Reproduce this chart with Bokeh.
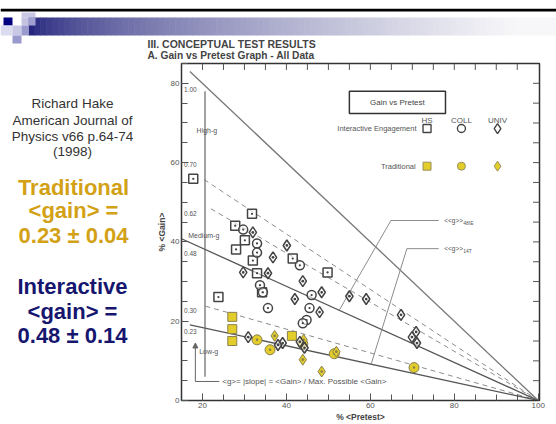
from bokeh.plotting import figure
from bokeh.layouts import column, row
from bokeh.models import (Range1d, LinearAxis, SingleIntervalTicker, Label,
                          Arrow, NormalHead)
from bokeh.embed import file_html
from bokeh.resources import INLINE

# ---------------- data ----------------
ie_hs_pre = [17.8, 31.8, 27.8, 30.1, 28.0, 32.0, 33.0, 23.8, 41.5, 49.8, 34.2]
ie_hs_gain = [55.9, 47.1, 44.1, 40.4, 38.1, 35.3, 32.1, 26.1, 35.8, 32.3, 27.3]
ie_coll_pre = [29.7, 33.0, 33.0, 43.2, 33.7, 34.4, 35.6, 46.0, 45.5, 44.8, 43.9]
ie_coll_gain = [43.1, 39.6, 37.3, 34.1, 29.1, 27.3, 23.3, 26.6, 23.3, 20.3, 19.5]
ie_univ_pre = [32.0, 40.1, 36.8, 29.7, 35.6, 43.9, 42.0, 48.4, 55.0, 59.0, 67.3,
               70.9, 69.9, 71.1, 47.9, 30.9, 39.1, 38.0, 43.2, 44.3]
ie_univ_gain = [42.4, 39.1, 36.1, 32.3, 32.1, 30.1, 25.6, 27.3, 26.3, 25.6, 21.6,
                17.3, 16.0, 14.5, 22.3, 16.0, 14.5, 14.0, 14.8, 13.3]
t_hs_pre = [27.1, 27.1, 27.1, 41.3]
t_hs_gain = [21.1, 18.0, 15.0, 16.3]
t_coll_pre = [33.0, 36.1, 43.9, 51.4, 70.4]
t_coll_gain = [15.3, 12.8, 14.3, 11.8, 8.3]
t_univ_pre = [37.2, 43.9, 48.4, 51.9, 44.1]
t_univ_gain = [16.3, 10.3, 7.3, 12.3, 15.3]

g_slopes = [1.00, 0.70, 0.62, 0.48, 0.30, 0.23]
g_start = [17.0, 20.4, 22.0, 15.0, 20.7, 17.0]
g_dash = ["solid", "dashed", "dashed", "solid", "dashed", "solid"]
g_labels = ["1.00", "0.70", "0.62", "0.48", "0.30", "0.23"]
g_label_y = [78.5, 59.6, 47.1, 37.1, 22.8, 17.5]

legend_cols = ["HS", "COLL", "UNIV"]
legend_x = [73.5, 81.7, 90.3]

top_ticks = list(range(20, 100, 5))
right_ticks = list(range(5, 85, 5))

FONT = "Liberation Sans"
GOLD = "#d3a116"
NAVY = "#16166e"
YEL = "#e2cd2a"
TXT = "#555555"

X0, X1 = 15, 100.3
Y0, Y1 = 0, 85


def bare(fig):
    fig.outline_line_color = None
    fig.background_fill_color = "white"
    fig.border_fill_color = "white"
    fig.min_border = 0
    return fig


# ================= header strip (page pixels) =================
hdr = bare(figure(width=556, height=62, x_range=Range1d(0, 556), y_range=Range1d(62, 0),
                  output_backend="svg", toolbar_location=None,
                  x_axis_type=None, y_axis_type=None))
hdr.quad(left=[0], right=[556], top=[8.3], bottom=[11.0], fill_color="black", line_color=None)
n = 90
gx0, gx1 = 28, 556
c0 = (28, 28, 120)
c1 = (247, 247, 249)
lefts, rights, cols = [], [], []
for i in range(n):
    t = (i + 0.5) / n
    f = min(1.0, (t ** 0.6) * 1.05)
    c = tuple(int(round(a + (b - a) * f)) for a, b in zip(c0, c1))
    lefts.append(gx0 + (gx1 - gx0) * i / n)
    rights.append(gx0 + (gx1 - gx0) * (i + 1) / n + 0.6)
    cols.append("#%02x%02x%02x" % c)
hdr.quad(left=lefts, right=rights, top=[17] * n, bottom=[35] * n, fill_color=cols,
         line_color=None)
sq_l = [21, 3, 21, 28, 0, 12, 21, 12]
sq_r = [35, 12, 28, 35, 12, 21, 28, 21]
sq_t = [12, 17, 17, 17, 25, 25, 25, 35]
sq_b = [17, 25, 25, 25, 35, 35, 35, 43]
sq_c = ["#c8c8e4", "#000080", "#c4c4e2", "#a0a0d0", "#dcdcf0", "#c8c8e6", "#9a9acd", "#9a9acd"]
hdr.quad(left=sq_l, right=sq_r, top=sq_t, bottom=sq_b, fill_color=sq_c, line_color=None)
hdr.add_layout(Label(x=147, y=43, text="III. CONCEPTUAL TEST RESULTS", text_font=FONT,
                     text_font_size="10.5px", text_font_style="bold", text_color="#444444",
                     text_baseline="middle"))
hdr.add_layout(Label(x=147, y=55, text="A.  Gain vs Pretest Graph - All Data", text_font=FONT,
                     text_font_size="10.2px", text_font_style="bold", text_color="#444444",
                     text_baseline="middle"))

# ================= left text column (page pixels) =================
lft = bare(figure(width=145, height=362, x_range=Range1d(0, 145), y_range=Range1d(424, 62),
                  output_backend="svg", toolbar_location=None,
                  x_axis_type=None, y_axis_type=None))
left_lines = [("Richard Hake", 105, "13.5px", "#333333", "normal", 72),
              ("American Journal of", 123, "13.5px", "#333333", "normal", 72),
              ("Physics v66 p.64-74", 140, "13.5px", "#333333", "normal", 72),
              ("(1998)", 157, "13.5px", "#333333", "normal", 72),
              ("Traditional", 195, "22px", GOLD, "bold", 73),
              ("<gain> =", 220, "22px", GOLD, "bold", 73),
              ("0.23 \u00b1 0.04", 247, "22px", GOLD, "bold", 73),
              ("Interactive", 302, "22px", NAVY, "bold", 72),
              ("<gain> =", 328, "22px", NAVY, "bold", 72),
              ("0.48 \u00b1 0.14", 354, "22px", NAVY, "bold", 72)]
for txt, yy, fs, col, st, xx in left_lines:
    lft.add_layout(Label(x=xx, y=yy, text=txt, text_font=FONT, text_font_size=fs,
                         text_color=col, text_font_style=st, text_align="center",
                         text_baseline="middle"))

# ================= chart =================
p = figure(width=411, height=362, x_range=Range1d(X0, X1), y_range=Range1d(Y0, Y1),
           output_backend="svg", toolbar_location=None, x_axis_type=None, y_axis_type=None,
           min_border_left=36, min_border_right=17, min_border_top=1, min_border_bottom=23)
p.outline_line_color = "#333333"
p.outline_line_width = 1.5
p.background_fill_color = "white"
p.border_fill_color = "white"


def mk_axis(title):
    ax = LinearAxis(ticker=SingleIntervalTicker(interval=20, num_minor_ticks=4))
    ax.major_tick_in = 7
    ax.major_tick_out = 0
    ax.minor_tick_in = 6
    ax.minor_tick_out = 0
    ax.axis_line_color = "#333333"
    ax.major_tick_line_color = TXT
    ax.minor_tick_line_color = TXT
    ax.major_label_text_font = FONT
    ax.major_label_text_color = TXT
    ax.major_label_text_font_size = "8px"
    ax.major_label_standoff = 2
    ax.axis_label = title
    ax.axis_label_text_font = FONT
    ax.axis_label_text_font_size = "8.5px"
    ax.axis_label_text_font_style = "bold"
    ax.axis_label_text_color = "#444444"
    ax.axis_label_standoff = 1
    return ax


p.add_layout(mk_axis("% <Pretest>"), "below")
p.add_layout(mk_axis("% <Gain>"), "left")

# inward ticks on the top and right edges of the frame
tick_dy = 6.5 * (Y1 - Y0) / 338
tick_dx = 6.5 * (X1 - X0) / 358
p.segment(x0=top_ticks, y0=[Y1] * len(top_ticks), x1=top_ticks,
          y1=[Y1 - tick_dy] * len(top_ticks), line_color=TXT, line_width=1)
p.segment(x0=[X1] * len(right_ticks), y0=right_ticks, x1=[X1 - tick_dx] * len(right_ticks),
          y1=right_ticks, line_color=TXT, line_width=1)

# ---- g lines ----
for g, x0, d in zip(g_slopes, g_start, g_dash):
    solid = d == "solid"
    col = "#555555" if (solid and g < 1) else ("#777777" if solid else "#8c8c8c")
    p.line([x0, 100], [g * (100 - x0), 0], line_color=col,
           line_width=1.3 if solid else 1.0, line_dash="solid" if solid else "5 4")

for lab, ly in zip(g_labels, g_label_y):
    p.add_layout(Label(x=15.6, y=ly, text=lab, text_font=FONT, text_font_size="6.5px",
                       text_color=TXT, text_baseline="middle"))

# region markers
p.segment(x0=[20.6], y0=[6.0], x1=[20.6], y1=[78.0], line_color="#666666", line_width=1.2)
p.segment(x0=[18.3], y0=[4.8], x1=[24.0], y1=[4.8], line_color="#666666", line_width=1.0)
p.add_layout(Arrow(end=NormalHead(size=5, fill_color="#666666", line_color="#666666"),
                   x_start=18.3, y_start=4.8, x_end=18.3, y_end=14.5,
                   line_color="#666666", line_width=1.0))
for t, tx, ty in [("High-g", 18.6, 68.0), ("Medium-g", 16.6, 41.6), ("Low-g", 19.2, 12.3)]:
    p.add_layout(Label(x=tx, y=ty, text=t, text_font=FONT, text_font_size="7px",
                       text_color=TXT, text_baseline="middle"))
p.add_layout(Label(x=24.7, y=4.8, text="<g>= |slope| = <Gain> / Max. Possible <Gain>",
                   text_font=FONT, text_font_size="8px", text_color=TXT,
                   text_baseline="middle"))

# pointers to the average lines
p.segment(x0=[64.9, 64.9, 68.7, 68.7], y0=[45.4, 45.4, 38.3, 38.3],
          x1=[52.6, 76.3, 60.2, 76.3], y1=[22.8, 45.4, 9.2, 38.3],
          line_color="#8c8c8c", line_width=1.0)
for sub, ly in [("48IE", 45.4), ("14T", 38.3)]:
    p.add_layout(Label(x=77.6, y=ly, text="<<g>>", text_font=FONT, text_font_size="6.5px",
                       text_color=TXT, text_baseline="middle"))
    p.add_layout(Label(x=77.6, y=ly, x_offset=19, y_offset=-2, text=sub, text_font=FONT,
                       text_font_size="5px", text_color=TXT, text_baseline="middle"))

# legend box
p.quad(left=[55.0], right=[77.9], bottom=[72.4], top=[78.0], fill_color="white",
       line_color="#333333", line_width=1.5)
p.add_layout(Label(x=66.45, y=75.2, text="Gain vs Pretest", text_font=FONT,
                   text_font_size="8px", text_color="#444444", text_align="center",
                   text_baseline="middle"))
for c, lx in zip(legend_cols, legend_x):
    p.add_layout(Label(x=lx, y=70.6, text=c, text_font=FONT, text_font_size="8px",
                       text_color=TXT, text_align="center", text_baseline="middle"))
p.add_layout(Label(x=71.0, y=68.6, text="Interactive Engagement", text_font=FONT,
                   text_font_size="7.5px", text_color=TXT, text_align="right",
                   text_baseline="middle"))
p.add_layout(Label(x=70.8, y=59.1, text="Traditional", text_font=FONT,
                   text_font_size="7.5px", text_color=TXT, text_align="right",
                   text_baseline="middle"))
markers = ["square", "circle", "diamond"]
msize = [8, 8, 10]
for m, lx, s in zip(markers, legend_x, msize):
    p.scatter([lx], [68.6], marker=m, size=s, fill_color="white", line_color="#444444",
              line_width=1.4)
    p.scatter([lx], [59.1], marker=m, size=s, fill_color=YEL, line_color="#9a9060",
              line_width=1.0)

# ---- data points ----
p.scatter(t_hs_pre, t_hs_gain, marker="square", size=9, fill_color=YEL,
          line_color="#8a8050", line_width=1.0)
p.scatter(t_coll_pre, t_coll_gain, marker="circle_dot", size=10, fill_color=YEL,
          line_color="#8a8050", line_width=1.0)
p.scatter(t_univ_pre, t_univ_gain, marker="diamond_dot", size=11, fill_color=YEL,
          line_color="#8a8050", line_width=1.0)
p.scatter(ie_hs_pre, ie_hs_gain, marker="square_dot", size=9, fill_color="white",
          fill_alpha=0.6, line_color="#444444", line_width=1.5)
p.scatter(ie_coll_pre, ie_coll_gain, marker="circle_dot", size=9, fill_color="white",
          fill_alpha=0.6, line_color="#444444", line_width=1.5)
p.scatter(ie_univ_pre, ie_univ_gain, marker="diamond_dot", size=11, fill_color="white",
          fill_alpha=0.6, line_color="#444444", line_width=1.5)

layout = column(hdr, row(lft, p, spacing=0), spacing=0)
open("out.html", "w").write(file_html(layout, INLINE))
